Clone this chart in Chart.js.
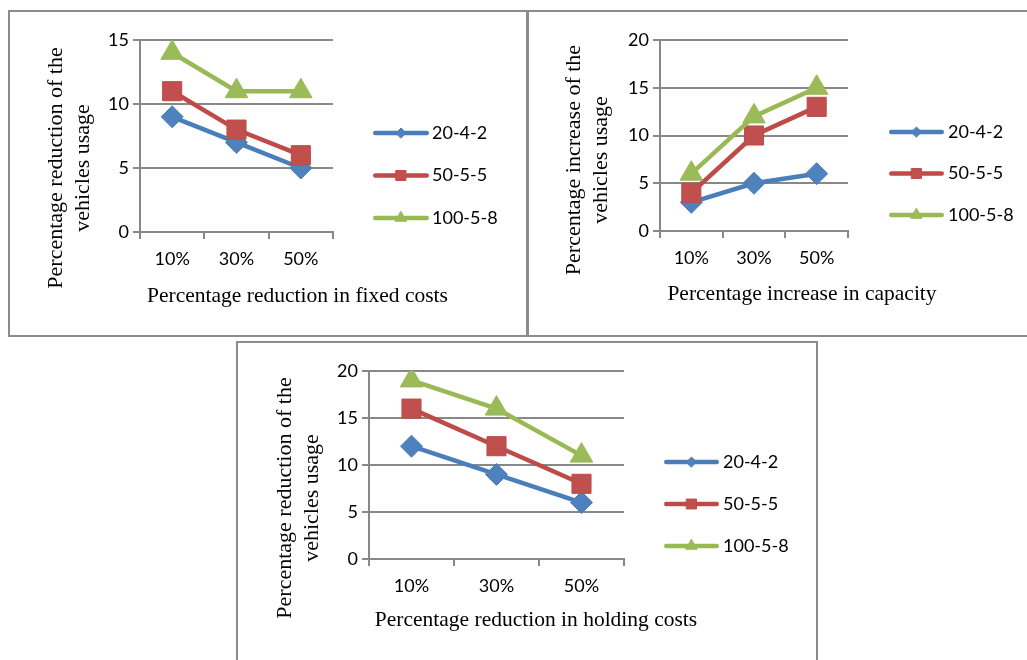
<!DOCTYPE html>
<html>
<head>
<meta charset="utf-8">
<script src="https://cdn.jsdelivr.net/npm/chart.js@4.4.1/dist/chart.umd.min.js"></script>
<style>
html,body{margin:0;padding:0;background:#fff;width:1027px;height:660px;overflow:hidden;}
.box{position:absolute;border:2px solid #8c8c8c;box-sizing:border-box;background:#fff;overflow:hidden;}
.box canvas{position:absolute;left:0;top:0;}
</style>
</head>
<body>
<div class="box" style="left:8px;top:10px;width:520px;height:327px;"><canvas id="c1" width="516" height="323"></canvas></div>
<div class="box" style="left:527px;top:10px;width:503px;height:327px;"><canvas id="c2" width="499" height="323"></canvas></div>
<div class="box" style="left:236px;top:341px;width:582px;height:330px;"><canvas id="c3" width="578" height="326"></canvas></div>
<script>
// ---------- data ----------
const categories = ['10%', '30%', '50%'];
const seriesNames = ['20-4-2', '50-5-5', '100-5-8'];

const fixed_20_4_2 = [9, 7, 5];
const fixed_50_5_5 = [11, 8, 6];
const fixed_100_5_8 = [14, 11, 11];

const capacity_20_4_2 = [3, 5, 6];
const capacity_50_5_5 = [4, 10, 13];
const capacity_100_5_8 = [6, 12, 15];

const holding_20_4_2 = [12, 9, 6];
const holding_50_5_5 = [16, 12, 8];
const holding_100_5_8 = [19, 16, 11];

const yMaxFixed = 15;
const yMaxCapacity = 20;
const yMaxHolding = 20;
const yStep = 5;

const yTitleFixed = ['Percentage reduction of the', 'vehicles usage'];
const xTitleFixed = 'Percentage reduction in fixed costs';
const yTitleCapacity = ['Percentage increase of the', 'vehicles usage'];
const xTitleCapacity = 'Percentage increase in capacity';
const yTitleHolding = ['Percentage reduction of the', 'vehicles usage'];
const xTitleHolding = 'Percentage reduction in holding costs';

// ---------- styles ----------
const lineColors = ['#4A7EBB', '#BE4B48', '#98B954'];
const fillColors = ['#4F81BD', '#C0504D', '#9BBB59'];
const pointStyles = ['rectRot', 'rect', 'triangle'];
const pointRadii = [11, 13.5, 13];
const legendRadii = [5, 7, 6.5];
const gridColor = '#888888';
const sansFont = 'Lato';
const serifFont = 'Liberation Serif';
const tickSize = 18;

// ---------- plugins ----------
function drawMarker(ctx, style, r, x, y) {
  if (Chart.helpers && Chart.helpers.drawPoint) {
    Chart.helpers.drawPoint(ctx, {pointStyle: style, radius: r, borderWidth: 1, rotation: 0}, x, y);
    return;
  }
  ctx.beginPath();
  if (style === 'rectRot') {
    ctx.moveTo(x - r, y); ctx.lineTo(x, y - r); ctx.lineTo(x + r, y); ctx.lineTo(x, y + r);
  } else if (style === 'rect') {
    const s = r * Math.SQRT1_2; ctx.rect(x - s, y - s, 2 * s, 2 * s);
  } else {
    ctx.moveTo(x, y - r); ctx.lineTo(x + r * 0.866, y + r / 2); ctx.lineTo(x - r * 0.866, y + r / 2);
  }
  ctx.closePath(); ctx.fill(); ctx.stroke();
}

const lineLegend = {
  id: 'lineLegend',
  afterDraw(chart, args, o) {
    const ctx = chart.ctx;
    chart.data.datasets.forEach((ds, i) => {
      const y = o.y + i * o.gap;
      ctx.save();
      ctx.strokeStyle = ds.borderColor;
      ctx.lineWidth = o.lineWidth;
      ctx.lineCap = 'round';
      ctx.beginPath();
      ctx.moveTo(o.x + o.lineWidth / 2, y);
      ctx.lineTo(o.x + o.len - o.lineWidth / 2, y);
      ctx.stroke();
      ctx.fillStyle = ds.pointBackgroundColor;
      ctx.strokeStyle = ds.pointBorderColor;
      ctx.lineWidth = 1;
      drawMarker(ctx, ds.pointStyle, legendRadii[i], o.x + o.len / 2, y);
      ctx.fillStyle = '#000';
      ctx.font = o.font;
      ctx.textAlign = 'left';
      ctx.textBaseline = 'middle';
      ctx.fillText(ds.label, o.textX, y);
      ctx.restore();
    });
  }
};

const freeText = {
  id: 'freeText',
  afterDraw(chart, args, o) {
    const ctx = chart.ctx;
    (o.items || []).forEach(it => {
      ctx.save();
      ctx.font = it.font;
      ctx.fillStyle = '#000';
      ctx.textAlign = 'center';
      ctx.textBaseline = it.baseline || 'middle';
      ctx.translate(it.x, it.y);
      if (it.rotate) ctx.rotate(it.rotate * Math.PI / 180);
      const lines = [].concat(it.text);
      lines.forEach((l, k) => ctx.fillText(l, 0, (k - (lines.length - 1) / 2) * (it.lineHeight || 0)));
      ctx.restore();
    });
  }
};

function makeChart(id, s1, s2, s3, yMax, yTitle, xTitle, L) {
  const series = [s1, s2, s3];
  const datasets = series.map((d, i) => ({
    label: seriesNames[i],
    data: d,
    borderColor: lineColors[i],
    backgroundColor: fillColors[i],
    pointBackgroundColor: fillColors[i],
    pointBorderColor: lineColors[i],
    pointBorderWidth: 1,
    pointStyle: pointStyles[i],
    pointRadius: pointRadii[i],
    pointHoverRadius: pointRadii[i],
    borderWidth: 4.5,
    tension: 0,
    fill: false,
    order: 3 - i
  }));
  return new Chart(document.getElementById(id), {
    type: 'line',
    data: {labels: categories, datasets},
    options: {
      responsive: false,
      animation: false,
      devicePixelRatio: 1,
      layout: {padding: {left: 0, top: L.top, right: L.right, bottom: L.bottom}},
      plugins: {
        legend: {display: false},
        tooltip: {enabled: false},
        lineLegend: {x: L.legX, len: L.legLen, textX: L.legTextX, y: L.legY, gap: L.legGap, lineWidth: 4.5, font: tickSize + 'px ' + sansFont},
        freeText: {items: [
          {text: yTitle, x: L.ytX, y: L.ytY, rotate: -90, lineHeight: 27, font: '22px "' + serifFont + '"'},
          {text: xTitle, x: L.xtX, y: L.xtY, baseline: 'alphabetic', font: '21.5px "' + serifFont + '"'}
        ]}
      },
      scales: {
        x: {
          type: 'category',
          offset: true,
          grid: {offset: true, drawOnChartArea: false, drawTicks: true, tickLength: 7, color: gridColor, lineWidth: 2},
          border: {display: true, color: gridColor, width: 2},
          ticks: {color: '#000', font: {family: sansFont, size: tickSize}, padding: 9, maxRotation: 0, autoSkip: false},
          afterFit: s => { s.height = L.xH; }
        },
        y: {
          min: 0,
          max: yMax,
          ticks: {stepSize: yStep, color: '#000', font: {family: sansFont, size: tickSize}, padding: 4},
          grid: {color: gridColor, lineWidth: 2, drawTicks: true, tickLength: 7},
          border: {display: true, color: gridColor, width: 2},
          afterFit: s => { s.width = L.yW; }
        }
      }
    },
    plugins: [lineLegend, freeText]
  });
}

makeChart('c1', fixed_20_4_2, fixed_50_5_5, fixed_100_5_8, yMaxFixed, yTitleFixed, xTitleFixed, {
  top: 28, right: 193, bottom: 43, xH: 60, yW: 130,
  legX: 363, legLen: 56, legTextX: 422, legY: 121, legGap: 42.5,
  ytX: 59.5, ytY: 156, xtX: 287.5, xtY: 290
});
makeChart('c2', capacity_20_4_2, capacity_50_5_5, capacity_100_5_8, yMaxCapacity, yTitleCapacity, xTitleCapacity, {
  top: 28, right: 180, bottom: 44, xH: 60, yW: 131,
  legX: 360, legLen: 55, legTextX: 419, legY: 120, legGap: 41.5,
  ytX: 59, ytY: 148, xtX: 273, xtY: 288
});
makeChart('c3', holding_20_4_2, holding_50_5_5, holding_100_5_8, yMaxHolding, yTitleHolding, xTitleHolding, {
  top: 28, right: 192, bottom: 50, xH: 60, yW: 131,
  legX: 426, legLen: 55, legTextX: 485, legY: 119, legGap: 42,
  ytX: 61, ytY: 155, xtX: 298, xtY: 283
});
</script>
</body>
</html>
